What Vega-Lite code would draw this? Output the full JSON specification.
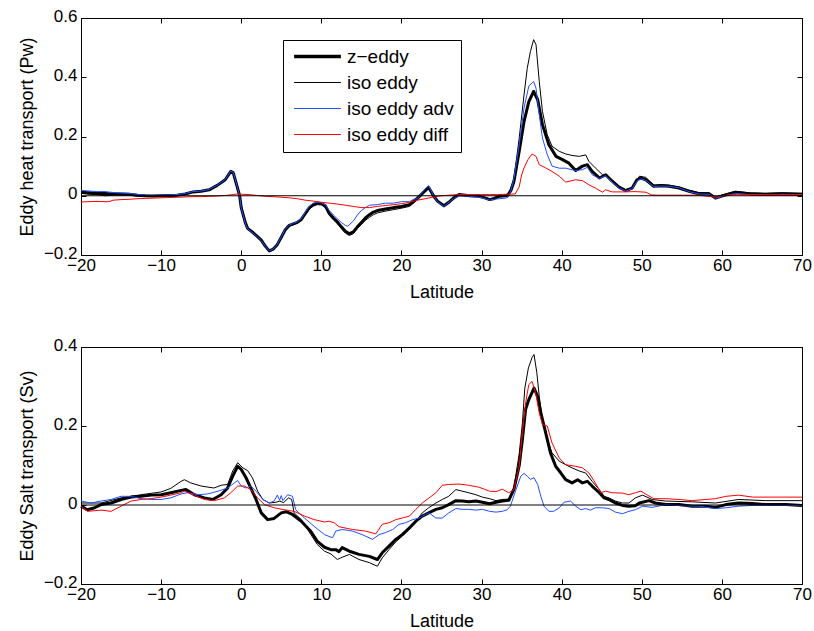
{
"$schema":"https://vega.github.io/schema/vega-lite/v6.json",
"padding":{"left":17,"top":6,"right":2,"bottom":2},
"spacing":33,
"config":{"font":"Liberation Sans","view":{"stroke":"black","strokeWidth":1},
"axis":{"grid":false,"domainColor":"black","tickColor":"black","labelColor":"black","titleColor":"black","labelFontSize":17,"titleFontSize":18,"titleFontWeight":"normal","tickSize":-5,"labelFlush":false}},
"resolve":{"scale":{"color":"independent","y":"independent"},"legend":{"color":"independent"}},
"datasets":{
"heat":[
{"x":-20,"y":0.012,"s":"z−eddy"},{"x":-19,"y":0.01,"s":"z−eddy"},{"x":-18,"y":0.008,"s":"z−eddy"},{"x":-17,"y":0.008,"s":"z−eddy"},{"x":-16,"y":0.006,"s":"z−eddy"},{"x":-15,"y":0.006,"s":"z−eddy"},{"x":-14,"y":0.005,"s":"z−eddy"},{"x":-13,"y":0.002,"s":"z−eddy"},{"x":-12,"y":0.0,"s":"z−eddy"},{"x":-11,"y":-0.001,"s":"z−eddy"},{"x":-10,"y":0.0,"s":"z−eddy"},{"x":-9,"y":0.001,"s":"z−eddy"},{"x":-8,"y":0.002,"s":"z−eddy"},{"x":-7,"y":0.006,"s":"z−eddy"},{"x":-6,"y":0.013,"s":"z−eddy"},{"x":-5,"y":0.015,"s":"z−eddy"},{"x":-4,"y":0.02,"s":"z−eddy"},{"x":-3,"y":0.035,"s":"z−eddy"},{"x":-2,"y":0.054,"s":"z−eddy"},{"x":-1.3,"y":0.082,"s":"z−eddy"},{"x":-1,"y":0.078,"s":"z−eddy"},{"x":-0.5,"y":0.03,"s":"z−eddy"},{"x":-0.2,"y":0.0,"s":"z−eddy"},{"x":0,"y":-0.04,"s":"z−eddy"},{"x":0.5,"y":-0.09,"s":"z−eddy"},{"x":0.8,"y":-0.11,"s":"z−eddy"},{"x":1.5,"y":-0.125,"s":"z−eddy"},{"x":2,"y":-0.137,"s":"z−eddy"},{"x":2.5,"y":-0.15,"s":"z−eddy"},{"x":3,"y":-0.17,"s":"z−eddy"},{"x":3.5,"y":-0.186,"s":"z−eddy"},{"x":4,"y":-0.18,"s":"z−eddy"},{"x":4.5,"y":-0.165,"s":"z−eddy"},{"x":5,"y":-0.14,"s":"z−eddy"},{"x":5.5,"y":-0.115,"s":"z−eddy"},{"x":6,"y":-0.1,"s":"z−eddy"},{"x":6.5,"y":-0.095,"s":"z−eddy"},{"x":7,"y":-0.09,"s":"z−eddy"},{"x":7.5,"y":-0.08,"s":"z−eddy"},{"x":8,"y":-0.06,"s":"z−eddy"},{"x":8.5,"y":-0.04,"s":"z−eddy"},{"x":9,"y":-0.03,"s":"z−eddy"},{"x":9.5,"y":-0.025,"s":"z−eddy"},{"x":10,"y":-0.026,"s":"z−eddy"},{"x":10.5,"y":-0.034,"s":"z−eddy"},{"x":11,"y":-0.06,"s":"z−eddy"},{"x":11.5,"y":-0.075,"s":"z−eddy"},{"x":12,"y":-0.088,"s":"z−eddy"},{"x":12.5,"y":-0.105,"s":"z−eddy"},{"x":13,"y":-0.12,"s":"z−eddy"},{"x":13.5,"y":-0.128,"s":"z−eddy"},{"x":14,"y":-0.122,"s":"z−eddy"},{"x":14.5,"y":-0.105,"s":"z−eddy"},{"x":15,"y":-0.09,"s":"z−eddy"},{"x":15.5,"y":-0.075,"s":"z−eddy"},{"x":16,"y":-0.064,"s":"z−eddy"},{"x":16.5,"y":-0.055,"s":"z−eddy"},{"x":17,"y":-0.05,"s":"z−eddy"},{"x":18,"y":-0.045,"s":"z−eddy"},{"x":19,"y":-0.04,"s":"z−eddy"},{"x":20,"y":-0.036,"s":"z−eddy"},{"x":21,"y":-0.03,"s":"z−eddy"},{"x":22,"y":-0.008,"s":"z−eddy"},{"x":22.5,"y":0.005,"s":"z−eddy"},{"x":23,"y":0.018,"s":"z−eddy"},{"x":23.4,"y":0.028,"s":"z−eddy"},{"x":24,"y":0.0,"s":"z−eddy"},{"x":24.5,"y":-0.018,"s":"z−eddy"},{"x":25.3,"y":-0.034,"s":"z−eddy"},{"x":26,"y":-0.02,"s":"z−eddy"},{"x":26.5,"y":-0.008,"s":"z−eddy"},{"x":27.2,"y":0.004,"s":"z−eddy"},{"x":28.5,"y":0.0,"s":"z−eddy"},{"x":29.7,"y":-0.002,"s":"z−eddy"},{"x":30.5,"y":-0.008,"s":"z−eddy"},{"x":31,"y":-0.013,"s":"z−eddy"},{"x":31.5,"y":-0.01,"s":"z−eddy"},{"x":32.2,"y":-0.002,"s":"z−eddy"},{"x":33,"y":0.0,"s":"z−eddy"},{"x":33.3,"y":0.003,"s":"z−eddy"},{"x":33.7,"y":0.02,"s":"z−eddy"},{"x":34.05,"y":0.049,"s":"z−eddy"},{"x":34.7,"y":0.15,"s":"z−eddy"},{"x":35.3,"y":0.25,"s":"z−eddy"},{"x":35.9,"y":0.318,"s":"z−eddy"},{"x":36.5,"y":0.352,"s":"z−eddy"},{"x":37,"y":0.325,"s":"z−eddy"},{"x":37.6,"y":0.24,"s":"z−eddy"},{"x":38.4,"y":0.172,"s":"z−eddy"},{"x":39.3,"y":0.133,"s":"z−eddy"},{"x":40.1,"y":0.122,"s":"z−eddy"},{"x":40.9,"y":0.11,"s":"z−eddy"},{"x":41.75,"y":0.085,"s":"z−eddy"},{"x":42.6,"y":0.1,"s":"z−eddy"},{"x":43.2,"y":0.105,"s":"z−eddy"},{"x":43.8,"y":0.082,"s":"z−eddy"},{"x":44.7,"y":0.06,"s":"z−eddy"},{"x":45.5,"y":0.071,"s":"z−eddy"},{"x":46.3,"y":0.049,"s":"z−eddy"},{"x":47.2,"y":0.028,"s":"z−eddy"},{"x":48,"y":0.017,"s":"z−eddy"},{"x":48.8,"y":0.026,"s":"z−eddy"},{"x":49.4,"y":0.054,"s":"z−eddy"},{"x":49.9,"y":0.06,"s":"z−eddy"},{"x":50.5,"y":0.054,"s":"z−eddy"},{"x":51.5,"y":0.032,"s":"z−eddy"},{"x":52.4,"y":0.034,"s":"z−eddy"},{"x":53.4,"y":0.032,"s":"z−eddy"},{"x":54.65,"y":0.026,"s":"z−eddy"},{"x":55.9,"y":0.015,"s":"z−eddy"},{"x":57.1,"y":0.007,"s":"z−eddy"},{"x":58.4,"y":0.007,"s":"z−eddy"},{"x":59.2,"y":-0.008,"s":"z−eddy"},{"x":60.1,"y":0.0,"s":"z−eddy"},{"x":61.7,"y":0.012,"s":"z−eddy"},{"x":63.4,"y":0.007,"s":"z−eddy"},{"x":65.5,"y":0.005,"s":"z−eddy"},{"x":67.5,"y":0.007,"s":"z−eddy"},{"x":70,"y":0.005,"s":"z−eddy"},
{"x":-20,"y":0.008,"s":"iso eddy"},{"x":-19,"y":0.005,"s":"iso eddy"},{"x":-18,"y":0.004,"s":"iso eddy"},{"x":-17,"y":0.0,"s":"iso eddy"},{"x":-16,"y":0.002,"s":"iso eddy"},{"x":-15,"y":0.003,"s":"iso eddy"},{"x":-14,"y":0.003,"s":"iso eddy"},{"x":-13,"y":-0.001,"s":"iso eddy"},{"x":-12,"y":-0.002,"s":"iso eddy"},{"x":-11,"y":-0.003,"s":"iso eddy"},{"x":-10,"y":-0.002,"s":"iso eddy"},{"x":-9,"y":-0.002,"s":"iso eddy"},{"x":-8,"y":0.0,"s":"iso eddy"},{"x":-7,"y":0.005,"s":"iso eddy"},{"x":-6,"y":0.013,"s":"iso eddy"},{"x":-5,"y":0.015,"s":"iso eddy"},{"x":-4,"y":0.02,"s":"iso eddy"},{"x":-3,"y":0.035,"s":"iso eddy"},{"x":-2,"y":0.054,"s":"iso eddy"},{"x":-1.3,"y":0.082,"s":"iso eddy"},{"x":-1,"y":0.078,"s":"iso eddy"},{"x":-0.5,"y":0.03,"s":"iso eddy"},{"x":-0.2,"y":0.0,"s":"iso eddy"},{"x":0,"y":-0.04,"s":"iso eddy"},{"x":0.5,"y":-0.09,"s":"iso eddy"},{"x":0.8,"y":-0.11,"s":"iso eddy"},{"x":1.5,"y":-0.125,"s":"iso eddy"},{"x":2,"y":-0.137,"s":"iso eddy"},{"x":2.5,"y":-0.152,"s":"iso eddy"},{"x":3,"y":-0.172,"s":"iso eddy"},{"x":3.5,"y":-0.188,"s":"iso eddy"},{"x":4,"y":-0.182,"s":"iso eddy"},{"x":4.5,"y":-0.167,"s":"iso eddy"},{"x":5,"y":-0.142,"s":"iso eddy"},{"x":5.5,"y":-0.117,"s":"iso eddy"},{"x":6,"y":-0.103,"s":"iso eddy"},{"x":6.5,"y":-0.098,"s":"iso eddy"},{"x":7,"y":-0.093,"s":"iso eddy"},{"x":7.5,"y":-0.084,"s":"iso eddy"},{"x":8,"y":-0.065,"s":"iso eddy"},{"x":8.5,"y":-0.045,"s":"iso eddy"},{"x":9,"y":-0.035,"s":"iso eddy"},{"x":9.5,"y":-0.03,"s":"iso eddy"},{"x":10,"y":-0.031,"s":"iso eddy"},{"x":10.5,"y":-0.04,"s":"iso eddy"},{"x":11,"y":-0.066,"s":"iso eddy"},{"x":11.5,"y":-0.081,"s":"iso eddy"},{"x":12,"y":-0.094,"s":"iso eddy"},{"x":12.5,"y":-0.111,"s":"iso eddy"},{"x":13,"y":-0.126,"s":"iso eddy"},{"x":13.5,"y":-0.134,"s":"iso eddy"},{"x":14,"y":-0.128,"s":"iso eddy"},{"x":14.5,"y":-0.111,"s":"iso eddy"},{"x":15,"y":-0.097,"s":"iso eddy"},{"x":15.5,"y":-0.083,"s":"iso eddy"},{"x":16,"y":-0.073,"s":"iso eddy"},{"x":16.5,"y":-0.064,"s":"iso eddy"},{"x":17,"y":-0.058,"s":"iso eddy"},{"x":18,"y":-0.052,"s":"iso eddy"},{"x":19,"y":-0.047,"s":"iso eddy"},{"x":20,"y":-0.042,"s":"iso eddy"},{"x":21,"y":-0.036,"s":"iso eddy"},{"x":22,"y":-0.014,"s":"iso eddy"},{"x":22.5,"y":0.0,"s":"iso eddy"},{"x":23,"y":0.014,"s":"iso eddy"},{"x":23.4,"y":0.024,"s":"iso eddy"},{"x":24,"y":-0.004,"s":"iso eddy"},{"x":24.5,"y":-0.02,"s":"iso eddy"},{"x":25.3,"y":-0.036,"s":"iso eddy"},{"x":26,"y":-0.022,"s":"iso eddy"},{"x":26.5,"y":-0.01,"s":"iso eddy"},{"x":27.2,"y":0.004,"s":"iso eddy"},{"x":28.5,"y":0.001,"s":"iso eddy"},{"x":29.7,"y":0.0,"s":"iso eddy"},{"x":30.5,"y":-0.006,"s":"iso eddy"},{"x":31,"y":-0.01,"s":"iso eddy"},{"x":31.5,"y":-0.008,"s":"iso eddy"},{"x":32.2,"y":0.0,"s":"iso eddy"},{"x":33,"y":0.002,"s":"iso eddy"},{"x":33.4,"y":0.004,"s":"iso eddy"},{"x":34.05,"y":0.06,"s":"iso eddy"},{"x":34.7,"y":0.195,"s":"iso eddy"},{"x":35.3,"y":0.34,"s":"iso eddy"},{"x":35.7,"y":0.43,"s":"iso eddy"},{"x":36.1,"y":0.487,"s":"iso eddy"},{"x":36.5,"y":0.527,"s":"iso eddy"},{"x":36.8,"y":0.51,"s":"iso eddy"},{"x":37.2,"y":0.386,"s":"iso eddy"},{"x":37.6,"y":0.285,"s":"iso eddy"},{"x":38.2,"y":0.206,"s":"iso eddy"},{"x":38.8,"y":0.167,"s":"iso eddy"},{"x":39.7,"y":0.15,"s":"iso eddy"},{"x":40.5,"y":0.141,"s":"iso eddy"},{"x":41.3,"y":0.136,"s":"iso eddy"},{"x":42.2,"y":0.133,"s":"iso eddy"},{"x":43,"y":0.138,"s":"iso eddy"},{"x":43.4,"y":0.116,"s":"iso eddy"},{"x":44.2,"y":0.094,"s":"iso eddy"},{"x":45.1,"y":0.071,"s":"iso eddy"},{"x":45.5,"y":0.071,"s":"iso eddy"},{"x":46.3,"y":0.054,"s":"iso eddy"},{"x":47.2,"y":0.032,"s":"iso eddy"},{"x":48,"y":0.021,"s":"iso eddy"},{"x":48.8,"y":0.028,"s":"iso eddy"},{"x":49.7,"y":0.066,"s":"iso eddy"},{"x":50.5,"y":0.062,"s":"iso eddy"},{"x":51.5,"y":0.036,"s":"iso eddy"},{"x":52.4,"y":0.038,"s":"iso eddy"},{"x":53.4,"y":0.036,"s":"iso eddy"},{"x":54.65,"y":0.03,"s":"iso eddy"},{"x":55.9,"y":0.019,"s":"iso eddy"},{"x":57.1,"y":0.011,"s":"iso eddy"},{"x":58.4,"y":0.01,"s":"iso eddy"},{"x":59.2,"y":-0.005,"s":"iso eddy"},{"x":60.1,"y":0.003,"s":"iso eddy"},{"x":61.7,"y":0.015,"s":"iso eddy"},{"x":63.4,"y":0.01,"s":"iso eddy"},{"x":65.5,"y":0.008,"s":"iso eddy"},{"x":67.5,"y":0.01,"s":"iso eddy"},{"x":70,"y":0.008,"s":"iso eddy"},
{"x":-20,"y":0.018,"s":"iso eddy adv"},{"x":-19,"y":0.016,"s":"iso eddy adv"},{"x":-18,"y":0.014,"s":"iso eddy adv"},{"x":-17,"y":0.014,"s":"iso eddy adv"},{"x":-16,"y":0.011,"s":"iso eddy adv"},{"x":-15,"y":0.009,"s":"iso eddy adv"},{"x":-14,"y":0.008,"s":"iso eddy adv"},{"x":-13,"y":0.005,"s":"iso eddy adv"},{"x":-12,"y":0.002,"s":"iso eddy adv"},{"x":-11,"y":0.001,"s":"iso eddy adv"},{"x":-10,"y":0.002,"s":"iso eddy adv"},{"x":-9,"y":0.003,"s":"iso eddy adv"},{"x":-8,"y":0.004,"s":"iso eddy adv"},{"x":-7,"y":0.008,"s":"iso eddy adv"},{"x":-6,"y":0.014,"s":"iso eddy adv"},{"x":-5,"y":0.016,"s":"iso eddy adv"},{"x":-4,"y":0.021,"s":"iso eddy adv"},{"x":-3,"y":0.036,"s":"iso eddy adv"},{"x":-2,"y":0.055,"s":"iso eddy adv"},{"x":-1.3,"y":0.083,"s":"iso eddy adv"},{"x":-1,"y":0.079,"s":"iso eddy adv"},{"x":-0.5,"y":0.031,"s":"iso eddy adv"},{"x":-0.2,"y":0.0,"s":"iso eddy adv"},{"x":0,"y":-0.042,"s":"iso eddy adv"},{"x":0.5,"y":-0.092,"s":"iso eddy adv"},{"x":0.8,"y":-0.112,"s":"iso eddy adv"},{"x":1.5,"y":-0.127,"s":"iso eddy adv"},{"x":2,"y":-0.138,"s":"iso eddy adv"},{"x":2.5,"y":-0.151,"s":"iso eddy adv"},{"x":3,"y":-0.171,"s":"iso eddy adv"},{"x":3.5,"y":-0.186,"s":"iso eddy adv"},{"x":4,"y":-0.18,"s":"iso eddy adv"},{"x":4.5,"y":-0.164,"s":"iso eddy adv"},{"x":5,"y":-0.138,"s":"iso eddy adv"},{"x":5.5,"y":-0.113,"s":"iso eddy adv"},{"x":6,"y":-0.099,"s":"iso eddy adv"},{"x":6.5,"y":-0.093,"s":"iso eddy adv"},{"x":7,"y":-0.088,"s":"iso eddy adv"},{"x":7.5,"y":-0.078,"s":"iso eddy adv"},{"x":8,"y":-0.055,"s":"iso eddy adv"},{"x":8.5,"y":-0.035,"s":"iso eddy adv"},{"x":9,"y":-0.025,"s":"iso eddy adv"},{"x":9.5,"y":-0.022,"s":"iso eddy adv"},{"x":10,"y":-0.024,"s":"iso eddy adv"},{"x":10.5,"y":-0.03,"s":"iso eddy adv"},{"x":11,"y":-0.05,"s":"iso eddy adv"},{"x":11.5,"y":-0.065,"s":"iso eddy adv"},{"x":12,"y":-0.078,"s":"iso eddy adv"},{"x":12.5,"y":-0.09,"s":"iso eddy adv"},{"x":13,"y":-0.1,"s":"iso eddy adv"},{"x":13.3,"y":-0.103,"s":"iso eddy adv"},{"x":14,"y":-0.085,"s":"iso eddy adv"},{"x":14.5,"y":-0.065,"s":"iso eddy adv"},{"x":15,"y":-0.05,"s":"iso eddy adv"},{"x":15.5,"y":-0.04,"s":"iso eddy adv"},{"x":16,"y":-0.032,"s":"iso eddy adv"},{"x":17,"y":-0.03,"s":"iso eddy adv"},{"x":18,"y":-0.025,"s":"iso eddy adv"},{"x":19,"y":-0.025,"s":"iso eddy adv"},{"x":20,"y":-0.02,"s":"iso eddy adv"},{"x":21,"y":-0.02,"s":"iso eddy adv"},{"x":21.5,"y":-0.012,"s":"iso eddy adv"},{"x":22,"y":-0.01,"s":"iso eddy adv"},{"x":22.5,"y":0.008,"s":"iso eddy adv"},{"x":23,"y":0.025,"s":"iso eddy adv"},{"x":23.4,"y":0.034,"s":"iso eddy adv"},{"x":24,"y":0.0,"s":"iso eddy adv"},{"x":24.5,"y":-0.02,"s":"iso eddy adv"},{"x":25.3,"y":-0.036,"s":"iso eddy adv"},{"x":26,"y":-0.02,"s":"iso eddy adv"},{"x":26.5,"y":-0.01,"s":"iso eddy adv"},{"x":27.2,"y":0.0,"s":"iso eddy adv"},{"x":28.5,"y":-0.002,"s":"iso eddy adv"},{"x":29.7,"y":-0.005,"s":"iso eddy adv"},{"x":30.5,"y":-0.01,"s":"iso eddy adv"},{"x":31,"y":-0.015,"s":"iso eddy adv"},{"x":31.5,"y":-0.012,"s":"iso eddy adv"},{"x":32.2,"y":-0.01,"s":"iso eddy adv"},{"x":33,"y":-0.008,"s":"iso eddy adv"},{"x":33.3,"y":-0.005,"s":"iso eddy adv"},{"x":33.7,"y":0.02,"s":"iso eddy adv"},{"x":34.05,"y":0.06,"s":"iso eddy adv"},{"x":34.7,"y":0.172,"s":"iso eddy adv"},{"x":35.3,"y":0.296,"s":"iso eddy adv"},{"x":35.9,"y":0.37,"s":"iso eddy adv"},{"x":36.5,"y":0.386,"s":"iso eddy adv"},{"x":36.8,"y":0.363,"s":"iso eddy adv"},{"x":37.2,"y":0.274,"s":"iso eddy adv"},{"x":37.6,"y":0.195,"s":"iso eddy adv"},{"x":38.2,"y":0.139,"s":"iso eddy adv"},{"x":38.8,"y":0.1,"s":"iso eddy adv"},{"x":39.7,"y":0.093,"s":"iso eddy adv"},{"x":40.5,"y":0.093,"s":"iso eddy adv"},{"x":41.75,"y":0.085,"s":"iso eddy adv"},{"x":42.6,"y":0.088,"s":"iso eddy adv"},{"x":43.2,"y":0.096,"s":"iso eddy adv"},{"x":43.8,"y":0.071,"s":"iso eddy adv"},{"x":44.7,"y":0.058,"s":"iso eddy adv"},{"x":45.5,"y":0.068,"s":"iso eddy adv"},{"x":46.3,"y":0.046,"s":"iso eddy adv"},{"x":47.2,"y":0.026,"s":"iso eddy adv"},{"x":48,"y":0.016,"s":"iso eddy adv"},{"x":48.8,"y":0.024,"s":"iso eddy adv"},{"x":49.4,"y":0.05,"s":"iso eddy adv"},{"x":49.9,"y":0.057,"s":"iso eddy adv"},{"x":50.5,"y":0.052,"s":"iso eddy adv"},{"x":51.5,"y":0.031,"s":"iso eddy adv"},{"x":52.4,"y":0.033,"s":"iso eddy adv"},{"x":53.4,"y":0.032,"s":"iso eddy adv"},{"x":54.65,"y":0.027,"s":"iso eddy adv"},{"x":55.9,"y":0.014,"s":"iso eddy adv"},{"x":57.1,"y":0.006,"s":"iso eddy adv"},{"x":58.4,"y":0.005,"s":"iso eddy adv"},{"x":59.2,"y":-0.009,"s":"iso eddy adv"},{"x":60.1,"y":-0.002,"s":"iso eddy adv"},{"x":61.7,"y":0.008,"s":"iso eddy adv"},{"x":63.4,"y":0.004,"s":"iso eddy adv"},{"x":65.5,"y":0.003,"s":"iso eddy adv"},{"x":67.5,"y":0.005,"s":"iso eddy adv"},{"x":70,"y":0.004,"s":"iso eddy adv"},
{"x":-20,"y":-0.021,"s":"iso eddy diff"},{"x":-19,"y":-0.02,"s":"iso eddy diff"},{"x":-18,"y":-0.019,"s":"iso eddy diff"},{"x":-17,"y":-0.02,"s":"iso eddy diff"},{"x":-16.5,"y":-0.02,"s":"iso eddy diff"},{"x":-16,"y":-0.015,"s":"iso eddy diff"},{"x":-15,"y":-0.013,"s":"iso eddy diff"},{"x":-14,"y":-0.012,"s":"iso eddy diff"},{"x":-13,"y":-0.01,"s":"iso eddy diff"},{"x":-12,"y":-0.009,"s":"iso eddy diff"},{"x":-11,"y":-0.008,"s":"iso eddy diff"},{"x":-10,"y":-0.007,"s":"iso eddy diff"},{"x":-9,"y":-0.006,"s":"iso eddy diff"},{"x":-8,"y":-0.005,"s":"iso eddy diff"},{"x":-7,"y":-0.004,"s":"iso eddy diff"},{"x":-6,"y":-0.003,"s":"iso eddy diff"},{"x":-5,"y":-0.003,"s":"iso eddy diff"},{"x":-4,"y":-0.002,"s":"iso eddy diff"},{"x":-3,"y":-0.001,"s":"iso eddy diff"},{"x":-2,"y":0.001,"s":"iso eddy diff"},{"x":-1,"y":0.004,"s":"iso eddy diff"},{"x":-0.5,"y":0.006,"s":"iso eddy diff"},{"x":0,"y":0.005,"s":"iso eddy diff"},{"x":1,"y":0.004,"s":"iso eddy diff"},{"x":2,"y":0.001,"s":"iso eddy diff"},{"x":3,"y":-0.002,"s":"iso eddy diff"},{"x":4,"y":-0.003,"s":"iso eddy diff"},{"x":5,"y":-0.005,"s":"iso eddy diff"},{"x":6,"y":-0.007,"s":"iso eddy diff"},{"x":7,"y":-0.01,"s":"iso eddy diff"},{"x":8,"y":-0.015,"s":"iso eddy diff"},{"x":9,"y":-0.018,"s":"iso eddy diff"},{"x":10,"y":-0.022,"s":"iso eddy diff"},{"x":11,"y":-0.025,"s":"iso eddy diff"},{"x":12,"y":-0.028,"s":"iso eddy diff"},{"x":13,"y":-0.032,"s":"iso eddy diff"},{"x":14,"y":-0.036,"s":"iso eddy diff"},{"x":15,"y":-0.04,"s":"iso eddy diff"},{"x":16,"y":-0.04,"s":"iso eddy diff"},{"x":17,"y":-0.036,"s":"iso eddy diff"},{"x":18,"y":-0.033,"s":"iso eddy diff"},{"x":19,"y":-0.03,"s":"iso eddy diff"},{"x":20,"y":-0.027,"s":"iso eddy diff"},{"x":21,"y":-0.022,"s":"iso eddy diff"},{"x":22,"y":-0.015,"s":"iso eddy diff"},{"x":23,"y":-0.01,"s":"iso eddy diff"},{"x":24,"y":-0.004,"s":"iso eddy diff"},{"x":25,"y":0.0,"s":"iso eddy diff"},{"x":26,"y":0.002,"s":"iso eddy diff"},{"x":27,"y":0.004,"s":"iso eddy diff"},{"x":28,"y":0.004,"s":"iso eddy diff"},{"x":29,"y":0.004,"s":"iso eddy diff"},{"x":30,"y":0.004,"s":"iso eddy diff"},{"x":31,"y":0.004,"s":"iso eddy diff"},{"x":32,"y":0.004,"s":"iso eddy diff"},{"x":33,"y":0.005,"s":"iso eddy diff"},{"x":34.2,"y":0.006,"s":"iso eddy diff"},{"x":34.7,"y":0.03,"s":"iso eddy diff"},{"x":35,"y":0.07,"s":"iso eddy diff"},{"x":35.3,"y":0.094,"s":"iso eddy diff"},{"x":35.8,"y":0.122,"s":"iso eddy diff"},{"x":36.3,"y":0.141,"s":"iso eddy diff"},{"x":36.8,"y":0.133,"s":"iso eddy diff"},{"x":37.2,"y":0.105,"s":"iso eddy diff"},{"x":38,"y":0.094,"s":"iso eddy diff"},{"x":38.8,"y":0.082,"s":"iso eddy diff"},{"x":39.7,"y":0.066,"s":"iso eddy diff"},{"x":40.5,"y":0.046,"s":"iso eddy diff"},{"x":41.75,"y":0.054,"s":"iso eddy diff"},{"x":42.6,"y":0.051,"s":"iso eddy diff"},{"x":43.4,"y":0.037,"s":"iso eddy diff"},{"x":44.2,"y":0.026,"s":"iso eddy diff"},{"x":45.1,"y":0.012,"s":"iso eddy diff"},{"x":45.5,"y":0.02,"s":"iso eddy diff"},{"x":46.3,"y":0.013,"s":"iso eddy diff"},{"x":47.6,"y":0.013,"s":"iso eddy diff"},{"x":49.2,"y":0.014,"s":"iso eddy diff"},{"x":50.5,"y":0.012,"s":"iso eddy diff"},{"x":51.2,"y":0.003,"s":"iso eddy diff"},{"x":52,"y":0.002,"s":"iso eddy diff"},{"x":55,"y":0.002,"s":"iso eddy diff"},{"x":57,"y":0.002,"s":"iso eddy diff"},{"x":58.5,"y":-0.003,"s":"iso eddy diff"},{"x":59.5,"y":-0.004,"s":"iso eddy diff"},{"x":60.5,"y":0.002,"s":"iso eddy diff"},{"x":62,"y":0.005,"s":"iso eddy diff"},{"x":65,"y":0.004,"s":"iso eddy diff"},{"x":70,"y":0.004,"s":"iso eddy diff"}
],
"salt":[
{"x":-20,"y":-0.003,"s":"z−eddy"},{"x":-19.2,"y":-0.012,"s":"z−eddy"},{"x":-18.3,"y":-0.007,"s":"z−eddy"},{"x":-17.5,"y":0.001,"s":"z−eddy"},{"x":-16.25,"y":0.005,"s":"z−eddy"},{"x":-15,"y":0.014,"s":"z−eddy"},{"x":-13.75,"y":0.02,"s":"z−eddy"},{"x":-12.5,"y":0.022,"s":"z−eddy"},{"x":-11.25,"y":0.025,"s":"z−eddy"},{"x":-10,"y":0.026,"s":"z−eddy"},{"x":-8.8,"y":0.031,"s":"z−eddy"},{"x":-7.5,"y":0.037,"s":"z−eddy"},{"x":-6.9,"y":0.039,"s":"z−eddy"},{"x":-5.85,"y":0.026,"s":"z−eddy"},{"x":-4.6,"y":0.018,"s":"z−eddy"},{"x":-3.56,"y":0.014,"s":"z−eddy"},{"x":-2.5,"y":0.026,"s":"z−eddy"},{"x":-1.7,"y":0.043,"s":"z−eddy"},{"x":-1.06,"y":0.073,"s":"z−eddy"},{"x":-0.44,"y":0.098,"s":"z−eddy"},{"x":0,"y":0.09,"s":"z−eddy"},{"x":0.6,"y":0.069,"s":"z−eddy"},{"x":1.2,"y":0.043,"s":"z−eddy"},{"x":1.85,"y":0.014,"s":"z−eddy"},{"x":2.5,"y":-0.02,"s":"z−eddy"},{"x":3.3,"y":-0.037,"s":"z−eddy"},{"x":4.1,"y":-0.034,"s":"z−eddy"},{"x":5,"y":-0.02,"s":"z−eddy"},{"x":5.6,"y":-0.017,"s":"z−eddy"},{"x":6.4,"y":-0.024,"s":"z−eddy"},{"x":7.5,"y":-0.041,"s":"z−eddy"},{"x":8.7,"y":-0.067,"s":"z−eddy"},{"x":9.5,"y":-0.092,"s":"z−eddy"},{"x":10.4,"y":-0.107,"s":"z−eddy"},{"x":11.2,"y":-0.113,"s":"z−eddy"},{"x":11.8,"y":-0.113,"s":"z−eddy"},{"x":12.2,"y":-0.118,"s":"z−eddy"},{"x":12.6,"y":-0.108,"s":"z−eddy"},{"x":13.5,"y":-0.117,"s":"z−eddy"},{"x":14.7,"y":-0.125,"s":"z−eddy"},{"x":16,"y":-0.13,"s":"z−eddy"},{"x":17,"y":-0.138,"s":"z−eddy"},{"x":17.6,"y":-0.121,"s":"z−eddy"},{"x":18.45,"y":-0.104,"s":"z−eddy"},{"x":19.3,"y":-0.087,"s":"z−eddy"},{"x":20.1,"y":-0.075,"s":"z−eddy"},{"x":21,"y":-0.058,"s":"z−eddy"},{"x":21.8,"y":-0.041,"s":"z−eddy"},{"x":22.6,"y":-0.028,"s":"z−eddy"},{"x":23.4,"y":-0.02,"s":"z−eddy"},{"x":24.3,"y":-0.011,"s":"z−eddy"},{"x":25.1,"y":-0.007,"s":"z−eddy"},{"x":25.9,"y":0.001,"s":"z−eddy"},{"x":26.8,"y":0.011,"s":"z−eddy"},{"x":27.6,"y":0.01,"s":"z−eddy"},{"x":28.4,"y":0.008,"s":"z−eddy"},{"x":29.3,"y":0.01,"s":"z−eddy"},{"x":30.1,"y":0.007,"s":"z−eddy"},{"x":31,"y":0.003,"s":"z−eddy"},{"x":31.8,"y":0.007,"s":"z−eddy"},{"x":32.6,"y":0.01,"s":"z−eddy"},{"x":33.4,"y":0.012,"s":"z−eddy"},{"x":34.05,"y":0.04,"s":"z−eddy"},{"x":34.7,"y":0.1,"s":"z−eddy"},{"x":35.1,"y":0.166,"s":"z−eddy"},{"x":35.5,"y":0.242,"s":"z−eddy"},{"x":35.9,"y":0.267,"s":"z−eddy"},{"x":36.55,"y":0.296,"s":"z−eddy"},{"x":37,"y":0.275,"s":"z−eddy"},{"x":37.4,"y":0.233,"s":"z−eddy"},{"x":38,"y":0.183,"s":"z−eddy"},{"x":38.6,"y":0.132,"s":"z−eddy"},{"x":39.25,"y":0.098,"s":"z−eddy"},{"x":39.9,"y":0.081,"s":"z−eddy"},{"x":40.5,"y":0.064,"s":"z−eddy"},{"x":41.3,"y":0.056,"s":"z−eddy"},{"x":42,"y":0.064,"s":"z−eddy"},{"x":42.6,"y":0.056,"s":"z−eddy"},{"x":43.2,"y":0.06,"s":"z−eddy"},{"x":43.8,"y":0.048,"s":"z−eddy"},{"x":44.7,"y":0.031,"s":"z−eddy"},{"x":45.3,"y":0.018,"s":"z−eddy"},{"x":45.9,"y":0.014,"s":"z−eddy"},{"x":46.7,"y":0.005,"s":"z−eddy"},{"x":47.6,"y":-0.001,"s":"z−eddy"},{"x":48.4,"y":-0.003,"s":"z−eddy"},{"x":49.2,"y":-0.002,"s":"z−eddy"},{"x":49.7,"y":0.005,"s":"z−eddy"},{"x":50.9,"y":0.011,"s":"z−eddy"},{"x":51.7,"y":0.005,"s":"z−eddy"},{"x":53,"y":0.001,"s":"z−eddy"},{"x":54.65,"y":0.001,"s":"z−eddy"},{"x":56.3,"y":-0.003,"s":"z−eddy"},{"x":58,"y":-0.003,"s":"z−eddy"},{"x":59.2,"y":-0.006,"s":"z−eddy"},{"x":60.5,"y":0.001,"s":"z−eddy"},{"x":62.1,"y":0.005,"s":"z−eddy"},{"x":63.8,"y":0.004,"s":"z−eddy"},{"x":65.5,"y":0.001,"s":"z−eddy"},{"x":68,"y":0.001,"s":"z−eddy"},{"x":70,"y":-0.001,"s":"z−eddy"},
{"x":-20,"y":0.005,"s":"iso eddy"},{"x":-17.5,"y":0.005,"s":"iso eddy"},{"x":-15,"y":0.018,"s":"iso eddy"},{"x":-12.5,"y":0.026,"s":"iso eddy"},{"x":-10,"y":0.033,"s":"iso eddy"},{"x":-8.8,"y":0.042,"s":"iso eddy"},{"x":-7.5,"y":0.06,"s":"iso eddy"},{"x":-7.1,"y":0.064,"s":"iso eddy"},{"x":-6.3,"y":0.056,"s":"iso eddy"},{"x":-5,"y":0.048,"s":"iso eddy"},{"x":-3.4,"y":0.043,"s":"iso eddy"},{"x":-2.5,"y":0.05,"s":"iso eddy"},{"x":-1.7,"y":0.052,"s":"iso eddy"},{"x":-1.06,"y":0.086,"s":"iso eddy"},{"x":-0.44,"y":0.107,"s":"iso eddy"},{"x":0.2,"y":0.094,"s":"iso eddy"},{"x":0.8,"y":0.087,"s":"iso eddy"},{"x":1.4,"y":0.069,"s":"iso eddy"},{"x":2.05,"y":0.035,"s":"iso eddy"},{"x":2.7,"y":0.014,"s":"iso eddy"},{"x":3.5,"y":0.005,"s":"iso eddy"},{"x":4.35,"y":0.007,"s":"iso eddy"},{"x":4.8,"y":0.01,"s":"iso eddy"},{"x":5.3,"y":0.006,"s":"iso eddy"},{"x":5.9,"y":0.018,"s":"iso eddy"},{"x":6.3,"y":0.014,"s":"iso eddy"},{"x":6.6,"y":-0.02,"s":"iso eddy"},{"x":7.5,"y":-0.037,"s":"iso eddy"},{"x":8.7,"y":-0.075,"s":"iso eddy"},{"x":9.5,"y":-0.1,"s":"iso eddy"},{"x":10.4,"y":-0.117,"s":"iso eddy"},{"x":11.2,"y":-0.124,"s":"iso eddy"},{"x":12,"y":-0.138,"s":"iso eddy"},{"x":12.4,"y":-0.134,"s":"iso eddy"},{"x":13.5,"y":-0.125,"s":"iso eddy"},{"x":14.7,"y":-0.138,"s":"iso eddy"},{"x":16,"y":-0.146,"s":"iso eddy"},{"x":17,"y":-0.155,"s":"iso eddy"},{"x":17.6,"y":-0.134,"s":"iso eddy"},{"x":18.45,"y":-0.113,"s":"iso eddy"},{"x":19.3,"y":-0.093,"s":"iso eddy"},{"x":20.1,"y":-0.079,"s":"iso eddy"},{"x":21,"y":-0.06,"s":"iso eddy"},{"x":21.8,"y":-0.041,"s":"iso eddy"},{"x":22.6,"y":-0.02,"s":"iso eddy"},{"x":23.4,"y":-0.007,"s":"iso eddy"},{"x":24.3,"y":0.005,"s":"iso eddy"},{"x":25.1,"y":0.014,"s":"iso eddy"},{"x":25.9,"y":0.022,"s":"iso eddy"},{"x":26.8,"y":0.039,"s":"iso eddy"},{"x":27.6,"y":0.035,"s":"iso eddy"},{"x":28.4,"y":0.031,"s":"iso eddy"},{"x":29.3,"y":0.026,"s":"iso eddy"},{"x":30.1,"y":0.02,"s":"iso eddy"},{"x":31,"y":0.016,"s":"iso eddy"},{"x":31.8,"y":0.011,"s":"iso eddy"},{"x":32.6,"y":0.014,"s":"iso eddy"},{"x":33.4,"y":0.015,"s":"iso eddy"},{"x":34.05,"y":0.045,"s":"iso eddy"},{"x":34.7,"y":0.13,"s":"iso eddy"},{"x":35.1,"y":0.208,"s":"iso eddy"},{"x":35.4,"y":0.296,"s":"iso eddy"},{"x":35.85,"y":0.347,"s":"iso eddy"},{"x":36.3,"y":0.373,"s":"iso eddy"},{"x":36.55,"y":0.381,"s":"iso eddy"},{"x":36.9,"y":0.335,"s":"iso eddy"},{"x":37.2,"y":0.275,"s":"iso eddy"},{"x":37.6,"y":0.216,"s":"iso eddy"},{"x":38.2,"y":0.166,"s":"iso eddy"},{"x":38.8,"y":0.132,"s":"iso eddy"},{"x":39.7,"y":0.111,"s":"iso eddy"},{"x":40.5,"y":0.102,"s":"iso eddy"},{"x":41.3,"y":0.094,"s":"iso eddy"},{"x":42.2,"y":0.086,"s":"iso eddy"},{"x":43,"y":0.081,"s":"iso eddy"},{"x":43.8,"y":0.06,"s":"iso eddy"},{"x":44.7,"y":0.039,"s":"iso eddy"},{"x":45.3,"y":0.022,"s":"iso eddy"},{"x":45.9,"y":0.018,"s":"iso eddy"},{"x":46.7,"y":0.01,"s":"iso eddy"},{"x":47.6,"y":0.005,"s":"iso eddy"},{"x":48.4,"y":0.005,"s":"iso eddy"},{"x":49.2,"y":0.018,"s":"iso eddy"},{"x":50.1,"y":0.025,"s":"iso eddy"},{"x":51.3,"y":0.014,"s":"iso eddy"},{"x":53,"y":0.01,"s":"iso eddy"},{"x":56.3,"y":0.008,"s":"iso eddy"},{"x":59.2,"y":0.005,"s":"iso eddy"},{"x":62.1,"y":0.014,"s":"iso eddy"},{"x":65.5,"y":0.011,"s":"iso eddy"},{"x":70,"y":0.011,"s":"iso eddy"},
{"x":-20,"y":0.01,"s":"iso eddy adv"},{"x":-18.75,"y":0.005,"s":"iso eddy adv"},{"x":-17.5,"y":0.01,"s":"iso eddy adv"},{"x":-16.25,"y":0.014,"s":"iso eddy adv"},{"x":-15,"y":0.022,"s":"iso eddy adv"},{"x":-13.75,"y":0.022,"s":"iso eddy adv"},{"x":-12.5,"y":0.016,"s":"iso eddy adv"},{"x":-11.25,"y":0.014,"s":"iso eddy adv"},{"x":-10,"y":0.014,"s":"iso eddy adv"},{"x":-8.8,"y":0.018,"s":"iso eddy adv"},{"x":-7.5,"y":0.028,"s":"iso eddy adv"},{"x":-6.7,"y":0.031,"s":"iso eddy adv"},{"x":-5.4,"y":0.026,"s":"iso eddy adv"},{"x":-4.2,"y":0.028,"s":"iso eddy adv"},{"x":-2.9,"y":0.035,"s":"iso eddy adv"},{"x":-1.7,"y":0.043,"s":"iso eddy adv"},{"x":-0.85,"y":0.056,"s":"iso eddy adv"},{"x":-0.44,"y":0.062,"s":"iso eddy adv"},{"x":0,"y":0.048,"s":"iso eddy adv"},{"x":0.6,"y":0.043,"s":"iso eddy adv"},{"x":1.2,"y":0.048,"s":"iso eddy adv"},{"x":1.85,"y":0.035,"s":"iso eddy adv"},{"x":2.7,"y":0.014,"s":"iso eddy adv"},{"x":3.5,"y":0.005,"s":"iso eddy adv"},{"x":4.1,"y":0.01,"s":"iso eddy adv"},{"x":4.5,"y":0.025,"s":"iso eddy adv"},{"x":4.8,"y":0.012,"s":"iso eddy adv"},{"x":5,"y":0.024,"s":"iso eddy adv"},{"x":5.2,"y":0.011,"s":"iso eddy adv"},{"x":5.8,"y":0.026,"s":"iso eddy adv"},{"x":6.4,"y":0.022,"s":"iso eddy adv"},{"x":6.8,"y":-0.012,"s":"iso eddy adv"},{"x":7.9,"y":-0.033,"s":"iso eddy adv"},{"x":9.1,"y":-0.054,"s":"iso eddy adv"},{"x":10.4,"y":-0.075,"s":"iso eddy adv"},{"x":11.4,"y":-0.083,"s":"iso eddy adv"},{"x":11.8,"y":-0.066,"s":"iso eddy adv"},{"x":12.6,"y":-0.062,"s":"iso eddy adv"},{"x":13.9,"y":-0.066,"s":"iso eddy adv"},{"x":15.1,"y":-0.075,"s":"iso eddy adv"},{"x":16.4,"y":-0.087,"s":"iso eddy adv"},{"x":17.2,"y":-0.075,"s":"iso eddy adv"},{"x":18,"y":-0.07,"s":"iso eddy adv"},{"x":18.9,"y":-0.062,"s":"iso eddy adv"},{"x":19.7,"y":-0.049,"s":"iso eddy adv"},{"x":20.5,"y":-0.045,"s":"iso eddy adv"},{"x":21.4,"y":-0.037,"s":"iso eddy adv"},{"x":22.2,"y":-0.033,"s":"iso eddy adv"},{"x":23,"y":-0.024,"s":"iso eddy adv"},{"x":23.45,"y":-0.02,"s":"iso eddy adv"},{"x":24.3,"y":-0.033,"s":"iso eddy adv"},{"x":25.1,"y":-0.033,"s":"iso eddy adv"},{"x":25.9,"y":-0.02,"s":"iso eddy adv"},{"x":26.8,"y":-0.009,"s":"iso eddy adv"},{"x":27.6,"y":-0.011,"s":"iso eddy adv"},{"x":28.4,"y":-0.011,"s":"iso eddy adv"},{"x":29.3,"y":-0.013,"s":"iso eddy adv"},{"x":30.1,"y":-0.011,"s":"iso eddy adv"},{"x":31,"y":-0.016,"s":"iso eddy adv"},{"x":31.8,"y":-0.018,"s":"iso eddy adv"},{"x":32.6,"y":-0.016,"s":"iso eddy adv"},{"x":33.2,"y":-0.012,"s":"iso eddy adv"},{"x":33.6,"y":-0.003,"s":"iso eddy adv"},{"x":34.3,"y":0.039,"s":"iso eddy adv"},{"x":34.9,"y":0.073,"s":"iso eddy adv"},{"x":35.3,"y":0.08,"s":"iso eddy adv"},{"x":35.7,"y":0.073,"s":"iso eddy adv"},{"x":36.1,"y":0.065,"s":"iso eddy adv"},{"x":36.55,"y":0.069,"s":"iso eddy adv"},{"x":37,"y":0.052,"s":"iso eddy adv"},{"x":37.4,"y":0.022,"s":"iso eddy adv"},{"x":37.8,"y":-0.003,"s":"iso eddy adv"},{"x":38.4,"y":-0.016,"s":"iso eddy adv"},{"x":39,"y":-0.016,"s":"iso eddy adv"},{"x":39.7,"y":-0.007,"s":"iso eddy adv"},{"x":40.3,"y":0.007,"s":"iso eddy adv"},{"x":41.1,"y":0.01,"s":"iso eddy adv"},{"x":41.75,"y":-0.003,"s":"iso eddy adv"},{"x":42.4,"y":-0.012,"s":"iso eddy adv"},{"x":43,"y":-0.009,"s":"iso eddy adv"},{"x":43.6,"y":-0.013,"s":"iso eddy adv"},{"x":44.2,"y":-0.007,"s":"iso eddy adv"},{"x":45.1,"y":-0.007,"s":"iso eddy adv"},{"x":45.9,"y":-0.009,"s":"iso eddy adv"},{"x":46.7,"y":-0.018,"s":"iso eddy adv"},{"x":47.6,"y":-0.022,"s":"iso eddy adv"},{"x":48.4,"y":-0.016,"s":"iso eddy adv"},{"x":49.2,"y":-0.012,"s":"iso eddy adv"},{"x":50.1,"y":-0.003,"s":"iso eddy adv"},{"x":51.3,"y":-0.006,"s":"iso eddy adv"},{"x":53,"y":0.001,"s":"iso eddy adv"},{"x":55,"y":-0.002,"s":"iso eddy adv"},{"x":57.1,"y":-0.003,"s":"iso eddy adv"},{"x":59.2,"y":-0.009,"s":"iso eddy adv"},{"x":60.5,"y":-0.007,"s":"iso eddy adv"},{"x":62.1,"y":-0.003,"s":"iso eddy adv"},{"x":64,"y":-0.001,"s":"iso eddy adv"},{"x":70,"y":-0.001,"s":"iso eddy adv"},
{"x":-20,"y":-0.003,"s":"iso eddy diff"},{"x":-19.2,"y":-0.016,"s":"iso eddy diff"},{"x":-17.5,"y":-0.013,"s":"iso eddy diff"},{"x":-16.25,"y":-0.016,"s":"iso eddy diff"},{"x":-15,"y":-0.003,"s":"iso eddy diff"},{"x":-13.75,"y":0.01,"s":"iso eddy diff"},{"x":-12.5,"y":0.014,"s":"iso eddy diff"},{"x":-11.25,"y":0.016,"s":"iso eddy diff"},{"x":-10,"y":0.02,"s":"iso eddy diff"},{"x":-8.8,"y":0.025,"s":"iso eddy diff"},{"x":-7.5,"y":0.031,"s":"iso eddy diff"},{"x":-7.1,"y":0.035,"s":"iso eddy diff"},{"x":-5.85,"y":0.025,"s":"iso eddy diff"},{"x":-4.6,"y":0.014,"s":"iso eddy diff"},{"x":-3.35,"y":0.011,"s":"iso eddy diff"},{"x":-2.1,"y":0.018,"s":"iso eddy diff"},{"x":-1.3,"y":0.031,"s":"iso eddy diff"},{"x":-0.44,"y":0.048,"s":"iso eddy diff"},{"x":0.4,"y":0.048,"s":"iso eddy diff"},{"x":1.2,"y":0.039,"s":"iso eddy diff"},{"x":2.05,"y":0.018,"s":"iso eddy diff"},{"x":2.9,"y":0.001,"s":"iso eddy diff"},{"x":4.1,"y":-0.007,"s":"iso eddy diff"},{"x":5.4,"y":-0.012,"s":"iso eddy diff"},{"x":6.6,"y":-0.016,"s":"iso eddy diff"},{"x":7.9,"y":-0.028,"s":"iso eddy diff"},{"x":9.1,"y":-0.037,"s":"iso eddy diff"},{"x":10.4,"y":-0.043,"s":"iso eddy diff"},{"x":11,"y":-0.041,"s":"iso eddy diff"},{"x":11.6,"y":-0.045,"s":"iso eddy diff"},{"x":12.2,"y":-0.055,"s":"iso eddy diff"},{"x":13.9,"y":-0.062,"s":"iso eddy diff"},{"x":15.5,"y":-0.066,"s":"iso eddy diff"},{"x":16.8,"y":-0.073,"s":"iso eddy diff"},{"x":17.6,"y":-0.049,"s":"iso eddy diff"},{"x":18.45,"y":-0.045,"s":"iso eddy diff"},{"x":19.3,"y":-0.037,"s":"iso eddy diff"},{"x":20.1,"y":-0.033,"s":"iso eddy diff"},{"x":21,"y":-0.028,"s":"iso eddy diff"},{"x":21.8,"y":-0.011,"s":"iso eddy diff"},{"x":22.6,"y":0.005,"s":"iso eddy diff"},{"x":23.45,"y":0.018,"s":"iso eddy diff"},{"x":24.3,"y":0.031,"s":"iso eddy diff"},{"x":25.1,"y":0.05,"s":"iso eddy diff"},{"x":25.9,"y":0.052,"s":"iso eddy diff"},{"x":27.2,"y":0.053,"s":"iso eddy diff"},{"x":28.4,"y":0.05,"s":"iso eddy diff"},{"x":29.7,"y":0.045,"s":"iso eddy diff"},{"x":31,"y":0.035,"s":"iso eddy diff"},{"x":31.8,"y":0.034,"s":"iso eddy diff"},{"x":32.6,"y":0.04,"s":"iso eddy diff"},{"x":33.4,"y":0.031,"s":"iso eddy diff"},{"x":34.05,"y":0.039,"s":"iso eddy diff"},{"x":34.7,"y":0.098,"s":"iso eddy diff"},{"x":35.1,"y":0.183,"s":"iso eddy diff"},{"x":35.5,"y":0.259,"s":"iso eddy diff"},{"x":35.9,"y":0.305,"s":"iso eddy diff"},{"x":36.3,"y":0.313,"s":"iso eddy diff"},{"x":36.75,"y":0.284,"s":"iso eddy diff"},{"x":37.2,"y":0.233,"s":"iso eddy diff"},{"x":37.6,"y":0.204,"s":"iso eddy diff"},{"x":38.2,"y":0.2,"s":"iso eddy diff"},{"x":38.8,"y":0.157,"s":"iso eddy diff"},{"x":39.7,"y":0.119,"s":"iso eddy diff"},{"x":40.5,"y":0.102,"s":"iso eddy diff"},{"x":41.75,"y":0.098,"s":"iso eddy diff"},{"x":42.6,"y":0.094,"s":"iso eddy diff"},{"x":43.4,"y":0.081,"s":"iso eddy diff"},{"x":44.2,"y":0.056,"s":"iso eddy diff"},{"x":44.9,"y":0.031,"s":"iso eddy diff"},{"x":45.5,"y":0.035,"s":"iso eddy diff"},{"x":46.3,"y":0.031,"s":"iso eddy diff"},{"x":47.6,"y":0.03,"s":"iso eddy diff"},{"x":48.4,"y":0.026,"s":"iso eddy diff"},{"x":49.2,"y":0.031,"s":"iso eddy diff"},{"x":49.9,"y":0.035,"s":"iso eddy diff"},{"x":50.7,"y":0.025,"s":"iso eddy diff"},{"x":51.5,"y":0.016,"s":"iso eddy diff"},{"x":53,"y":0.016,"s":"iso eddy diff"},{"x":54.65,"y":0.014,"s":"iso eddy diff"},{"x":56.3,"y":0.011,"s":"iso eddy diff"},{"x":58,"y":0.014,"s":"iso eddy diff"},{"x":59.2,"y":0.016,"s":"iso eddy diff"},{"x":60.5,"y":0.022,"s":"iso eddy diff"},{"x":62.1,"y":0.025,"s":"iso eddy diff"},{"x":63.8,"y":0.02,"s":"iso eddy diff"},{"x":66,"y":0.02,"s":"iso eddy diff"},{"x":68,"y":0.02,"s":"iso eddy diff"},{"x":70,"y":0.02,"s":"iso eddy diff"}
],
"zero":[{"v":0}]
},
"vconcat":[
{"width":721,"height":237,
"resolve":{"axis":{"x":"independent","y":"independent"}},
"layer":[
{"data":{"name":"heat"},"mark":{"type":"line","strokeJoin":"round"},
"encoding":{
"x":{"field":"x","type":"quantitative","scale":{"domain":[-20,70],"nice":false,"zero":false},"axis":{"values":[-20,-10,0,10,20,30,40,50,60,70],"format":"d","title":"Latitude","labelPadding":7,"titlePadding":10}},
"y":{"field":"y","type":"quantitative","scale":{"domain":[-0.2,0.6],"nice":false,"zero":false},"axis":{"values":[-0.2,0,0.2,0.4,0.6],"format":"~g","title":"Eddy heat transport (Pw)","labelPadding":9,"labelOffset":-2,"titlePadding":7}},
"color":{"field":"s","type":"nominal","scale":{"domain":["z−eddy","iso eddy","iso eddy adv","iso eddy diff"],"range":["#000000","#000000","#1e50ff","#ff0000"]},
"legend":{"orient":"none","legendX":202,"legendY":22,"title":null,"strokeColor":"black","fillColor":"white","padding":7,"symbolType":"M-2.6,0L2.6,0","symbolSize":324,"labelFontSize":19,"labelColor":"black","rowPadding":6,"labelOffset":20,"symbolOffset":18,
"encode":{"symbols":{"update":{"strokeWidth":{"signal":"datum.value === 'z−eddy' ? 3.5 : 1.2"}}}}}},
"strokeWidth":{"condition":{"test":"datum.s === 'z−eddy'","value":3},"value":1}
}},
{"data":{"name":"zero"},"mark":{"type":"rule","color":"black","strokeWidth":1},
"encoding":{
"y":{"field":"v","type":"quantitative","axis":{"orient":"right","labels":false,"title":null,"values":[-0.2,0,0.2,0.4,0.6]}},
"x":{"datum":-20,"type":"quantitative","axis":{"orient":"top","labels":false,"title":null,"values":[-20,-10,0,10,20,30,40,50,60,70]}},
"x2":{"datum":70}
}}
]},
{"width":721,"height":237,
"resolve":{"axis":{"x":"independent","y":"independent"}},
"layer":[
{"data":{"name":"salt"},"mark":{"type":"line","strokeJoin":"round"},
"encoding":{
"x":{"field":"x","type":"quantitative","scale":{"domain":[-20,70],"nice":false,"zero":false},"axis":{"values":[-20,-10,0,10,20,30,40,50,60,70],"format":"d","title":"Latitude","labelPadding":7,"titlePadding":10}},
"y":{"field":"y","type":"quantitative","scale":{"domain":[-0.2,0.4],"nice":false,"zero":false},"axis":{"values":[-0.2,0,0.2,0.4],"format":"~g","title":"Eddy Salt transport (Sv)","labelPadding":9,"labelOffset":-2,"titlePadding":7}},
"color":{"field":"s","type":"nominal","scale":{"domain":["z−eddy","iso eddy","iso eddy adv","iso eddy diff"],"range":["#000000","#000000","#1e50ff","#ff0000"]},"legend":null},
"strokeWidth":{"condition":{"test":"datum.s === 'z−eddy'","value":3},"value":1}
}},
{"data":{"name":"zero"},"mark":{"type":"rule","color":"black","strokeWidth":1},
"encoding":{
"y":{"field":"v","type":"quantitative","axis":{"orient":"right","labels":false,"title":null,"values":[-0.2,0,0.2,0.4]}},
"x":{"datum":-20,"type":"quantitative","axis":{"orient":"top","labels":false,"title":null,"values":[-20,-10,0,10,20,30,40,50,60,70]}},
"x2":{"datum":70}
}}
]}
]
}
